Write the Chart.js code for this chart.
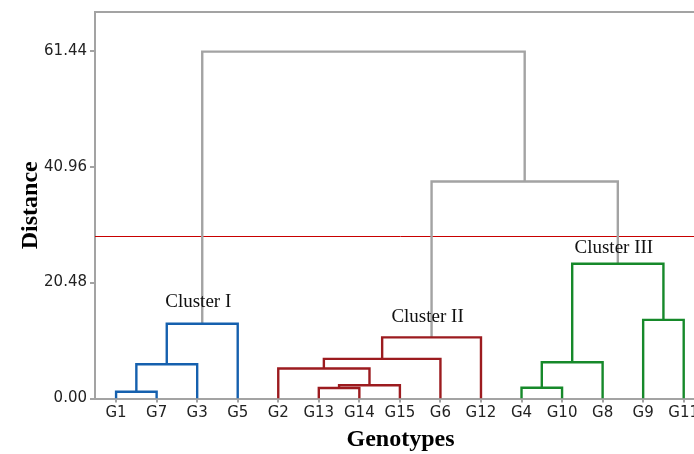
<!DOCTYPE html>
<html lang="en">
<head>
  <meta charset="UTF-8" />
  <script src="https://cdn.jsdelivr.net/npm/chart.js"></script>
  <title>Dendrogram of genotypes</title>
  <style>
    html, body { margin: 0; padding: 0; background: #fff; }
    #wrap { width: 694px; height: 454px; overflow: hidden; position: relative; }
    #wrap canvas { position: absolute; left: 0; top: 0; }
  </style>
</head>
<body>
  <div id="wrap">
    <canvas id="grafico" width="706" height="454"></canvas>
  </div>
  <script>
    // leaf order along the x axis
    const genotypes = ['G1', 'G7', 'G3', 'G5', 'G2', 'G13', 'G14', 'G15', 'G6', 'G12', 'G4', 'G10', 'G8', 'G9', 'G11'];

    // merges: [left child, right child, distance]; a number refers to an earlier merge
    const merges = [
      ['G1', 'G7', 1.2],     // 0
      [0, 'G3', 6.05],       // 1
      [1, 'G5', 13.2],       // 2  -> Cluster I
      ['G13', 'G14', 1.86],  // 3
      [3, 'G15', 2.33],      // 4
      ['G2', 4, 5.3],        // 5
      [5, 'G6', 7.0],        // 6
      [6, 'G12', 10.8],      // 7  -> Cluster II
      ['G4', 'G10', 1.9],    // 8
      [8, 'G8', 6.4],        // 9
      ['G9', 'G11', 13.9],   // 10
      [9, 10, 23.8],         // 11 -> Cluster III
      [7, 11, 38.35],        // 12
      [2, 12, 61.3]          // 13
    ];

    const clusterNames = ['Cluster I', 'Cluster II', 'Cluster III'];
    const clusterRoots = [2, 7, 11];
    const cutHeight = 28.8;
    const yTicks = [0, 20.48, 40.96, 61.44];

    const clusterColors = ['#1560ae', '#9c1b1f', '#16892a'];
    const linkGrey = '#a3a3a3';

    // position and height of every node
    function nodeOf(ref) {
      if (typeof ref === 'string') return { x: genotypes.indexOf(ref), y: 0 };
      return nodes[ref];
    }
    const nodes = [];
    merges.forEach(m => {
      const a = nodeOf(m[0]), b = nodeOf(m[1]);
      nodes.push({ x: (a.x + b.x) / 2, y: m[2] });
    });

    // colour each merge by the cluster whose subtree contains it
    const mergeColor = merges.map(() => linkGrey);
    function paint(i, color) {
      mergeColor[i] = color;
      merges[i].slice(0, 2).forEach(c => { if (typeof c === 'number') paint(c, color); });
    }
    clusterRoots.forEach((r, k) => paint(r, clusterColors[k]));

    const datasets = merges.map((m, i) => {
      const a = nodeOf(m[0]), b = nodeOf(m[1]);
      return {
        data: [
          { x: a.x, y: a.y }, { x: a.x, y: m[2] },
          { x: b.x, y: m[2] }, { x: b.x, y: b.y }
        ],
        borderColor: mergeColor[i],
        borderWidth: 2.4,
        pointRadius: 0,
        showLine: true,
        fill: false,
        tension: 0
      };
    });

    const xMin = -0.52, xMax = 14.55;

    // top frame line, cut line and cluster labels
    const extras = {
      id: 'extras',
      beforeDatasetsDraw(chart) {
        const { ctx, chartArea, scales } = chart;
        const y = Math.round(scales.y.getPixelForValue(cutHeight)) + 0.5;
        ctx.save();
        ctx.strokeStyle = 'rgb(200, 0, 0)';
        ctx.lineWidth = 1;
        ctx.beginPath();
        ctx.moveTo(chartArea.left, y);
        ctx.lineTo(chartArea.right, y);
        ctx.stroke();
        ctx.restore();
      },
      afterDraw(chart) {
        const { ctx, chartArea, scales } = chart;
        ctx.save();
        ctx.strokeStyle = linkGrey;
        ctx.lineWidth = 2;
        ctx.beginPath();
        ctx.moveTo(chartArea.left, chartArea.top);
        ctx.lineTo(chartArea.right, chartArea.top);
        ctx.stroke();
        ctx.fillStyle = '#111';
        ctx.font = '19px "Liberation Serif", serif';
        ctx.textAlign = 'center';
        ctx.textBaseline = 'middle';
        const lift = [22, 20, 16];
        clusterRoots.forEach((r, k) => {
          const px = scales.x.getPixelForValue(nodes[r].x) - 4;
          const py = scales.y.getPixelForValue(nodes[r].y) - lift[k];
          ctx.fillText(clusterNames[k], px, py);
        });
        ctx.restore();
      }
    };

    const tickFont = { family: '"DejaVu Sans", sans-serif', size: 15 };
    const titleFont = { family: '"Liberation Serif", serif', size: 24, weight: 'bold' };

    new Chart(document.getElementById('grafico').getContext('2d'), {
      type: 'scatter',
      data: { datasets },
      options: {
        responsive: false,
        animation: false,
        layout: { padding: { top: 12, right: 0, left: 0, bottom: 0 } },
        plugins: { legend: { display: false }, tooltip: { enabled: false } },
        scales: {
          x: {
            type: 'linear',
            min: xMin,
            max: xMax,
            afterBuildTicks: s => { s.ticks = genotypes.map((g, i) => ({ value: i })); },
            afterFit: s => { s.height = 55.5; },
            ticks: {
              callback: v => genotypes[v],
              font: tickFont,
              color: '#222',
              padding: 2,
              maxRotation: 0,
              autoSkip: false
            },
            grid: { drawOnChartArea: false, drawTicks: true, tickLength: 4, color: linkGrey, lineWidth: 2 },
            border: { display: true, color: linkGrey, width: 2 },
            title: { display: true, text: 'Genotypes', font: titleFont, color: '#000', padding: { top: 0, bottom: 0 } }
          },
          y: {
            min: 0,
            max: 68.3,
            afterBuildTicks: s => { s.ticks = yTicks.map(v => ({ value: v })); },
            afterFit: s => { s.width = 95; },
            ticks: {
              callback: v => v.toFixed(2),
              font: tickFont,
              color: '#222',
              padding: 3
            },
            grid: { drawOnChartArea: false, drawTicks: true, tickLength: 5, color: linkGrey, lineWidth: 2 },
            border: { display: true, color: linkGrey, width: 2 },
            title: { display: true, text: 'Distance', font: titleFont, color: '#000', padding: { top: 16, bottom: 0 } }
          }
        }
      },
      plugins: [extras]
    });
  </script>
</body>
</html>
